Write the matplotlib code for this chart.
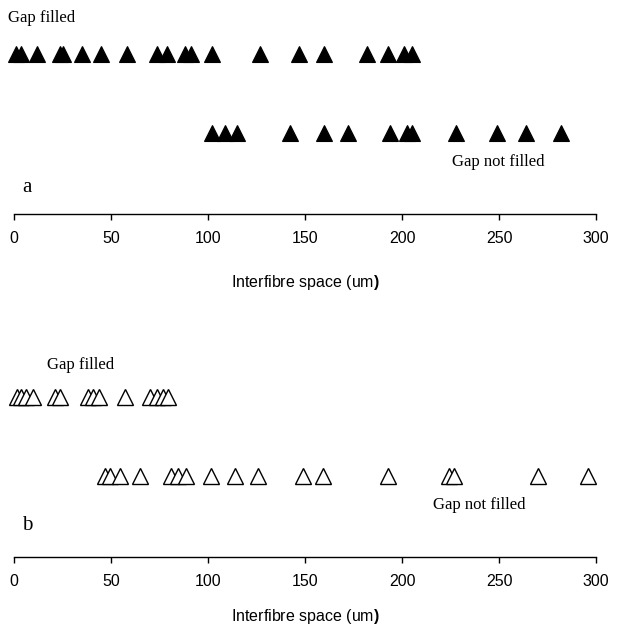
import matplotlib
matplotlib.use("Agg")
import matplotlib.pyplot as plt

# interfibre space (um) for each observation
a_filled = [1, 3.6, 12, 23.5, 25.5, 35, 45, 58, 73.5, 79, 88, 91, 102,
            127, 147, 160, 182, 193, 201, 205]
a_not_filled = [102, 109, 115, 142.5, 160, 172, 194, 202.5, 205, 228,
                249, 264, 282]
b_filled = [1.5, 3.6, 6.2, 9.8, 21, 23.7, 38, 40.7, 44, 57, 70, 73.7,
            76.8, 79.4]
b_not_filled = [47, 49.5, 54.6, 65, 81, 84.5, 88.7, 101.5, 114, 126, 149,
                159.5, 193, 224, 227, 270, 296]

xticks = [0, 50, 100, 150, 200, 250, 300]
xlabel = r"Interfibre space (um$\mathbf{)}$"

plt.rcParams["mathtext.fontset"] = "custom"
plt.rcParams["mathtext.rm"] = "Liberation Sans"
plt.rcParams["mathtext.bf"] = "Liberation Sans:bold"

W, H = 628, 629
fig = plt.figure(figsize=(W / 100, H / 100), dpi=100)

serif = "Liberation Serif"
sans = "Liberation Sans"


def make_axes(spine_px, height_px, labelpad):
    ax = fig.add_axes([14 / W, 1 - spine_px / H, 582 / W, height_px / H])
    ax.set_xlim(0, 300)
    ax.set_ylim(0, 4)
    for s in ["top", "left", "right"]:
        ax.spines[s].set_visible(False)
    ax.spines["bottom"].set_linewidth(1.0)
    ax.set_yticks([])
    ax.set_xticks(xticks)
    ax.set_xticklabels([str(t) for t in xticks], fontfamily=sans, fontsize=11.5)
    ax.tick_params(axis="x", direction="out", length=4, width=1, pad=8)
    ax.set_xlabel(xlabel, fontfamily=sans, fontsize=11.5, labelpad=labelpad)
    ax.patch.set_alpha(0)
    return ax


# panel a
ax1 = make_axes(214, 214, 20)
ax1.plot(a_filled, [3.0] * len(a_filled), "^", color="black", ms=11,
         markeredgewidth=0.8, clip_on=False)
ax1.plot(a_not_filled, [1.51] * len(a_not_filled), "^", color="black", ms=11,
         markeredgewidth=0.8, clip_on=False)
ax1.text(-3, 3.66, "Gap filled", fontfamily=serif, fontsize=12, va="center")
ax1.text(225.8, 0.97, "Gap not filled", fontfamily=serif, fontsize=12, va="center")
ax1.text(4, 0.49, "a", fontfamily=serif, fontsize=15, va="center")

# panel b
ax2 = make_axes(557, 214, 13)
ax2.plot(b_filled, [3.0] * len(b_filled), "^", mfc="white", mec="black",
         ms=11, markeredgewidth=1.0, clip_on=False)
ax2.plot(b_not_filled, [1.51] * len(b_not_filled), "^", mfc="white",
         mec="black", ms=11, markeredgewidth=1.0, clip_on=False)
ax2.text(17, 3.59, "Gap filled", fontfamily=serif, fontsize=12, va="center")
ax2.text(216, 0.97, "Gap not filled", fontfamily=serif, fontsize=12, va="center")
ax2.text(4, 0.58, "b", fontfamily=serif, fontsize=15, va="center")

fig.savefig("out.png", dpi=100)
